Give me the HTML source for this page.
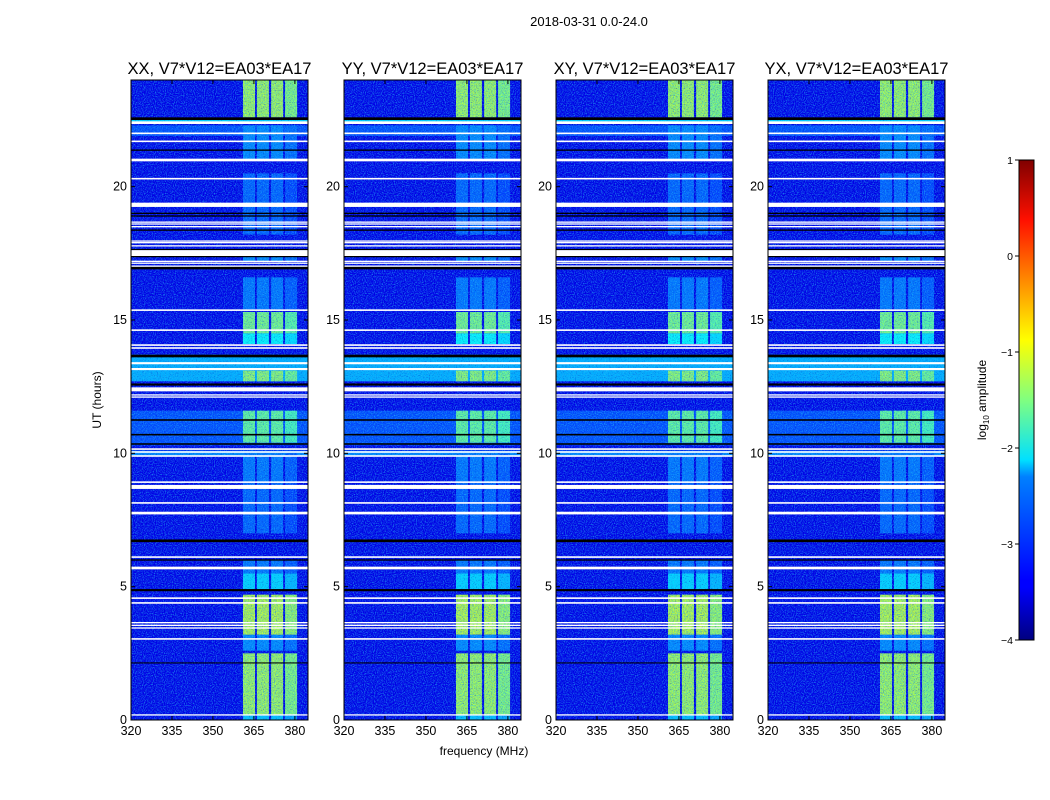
<!DOCTYPE html>
<html><head><meta charset="utf-8"><style>
html,body{margin:0;padding:0;background:#fff;}
svg{display:block;font-family:"Liberation Sans","DejaVu Sans",sans-serif;}
</style></head><body>
<svg id="fig" width="1050" height="800" viewBox="0 0 1050 800">
<defs>
<filter id="noise" x="0" y="0" width="100%" height="100%">
<feTurbulence type="fractalNoise" baseFrequency="0.9" numOctaves="1" seed="3" result="n"/>
<feColorMatrix type="matrix" values="0 0 0 0 0.02  1.4 0 0 0 -0.45  0 0 0 0 0.9  2.6 0 0 0 -0.95"/>
</filter>
<filter id="noise2" x="0" y="0" width="100%" height="100%">
<feTurbulence type="fractalNoise" baseFrequency="0.85" numOctaves="1" seed="11"/>
<feColorMatrix type="matrix" values="0 0 0 0 0  0 0 0 0 0  0 0 0 0 0.45  -2.4 0 0 0 1.05"/>
</filter>
<linearGradient id="jet" x1="0" y1="1" x2="0" y2="0">
<stop offset="0" stop-color="#000080"/><stop offset="0.11" stop-color="#0000ff"/>
<stop offset="0.125" stop-color="#0000ff"/><stop offset="0.34" stop-color="#0080ff"/>
<stop offset="0.375" stop-color="#00e0ff"/><stop offset="0.5" stop-color="#80ff80"/>
<stop offset="0.625" stop-color="#ffff00"/><stop offset="0.66" stop-color="#ffe000"/>
<stop offset="0.875" stop-color="#ff1000"/><stop offset="1" stop-color="#800000"/>
</linearGradient>
</defs>
<text x="589" y="26" font-size="13" text-anchor="middle">2018-03-31 0.0-24.0</text>
<text x="484" y="755" font-size="12" text-anchor="middle">frequency (MHz)</text>
<text transform="translate(101,400) rotate(-90)" font-size="12" text-anchor="middle">UT (hours)</text>
<g id="panels"></g>
<g id="cbar">
<rect x="1019" y="160" width="15" height="480" fill="url(#jet)" stroke="#000" stroke-width="1"/>
</g>
<text transform="translate(986,400) rotate(-90)" font-size="12" text-anchor="middle">log<tspan font-size="8" dy="3">10</tspan><tspan dy="-3"> amplitude</tspan></text>
</svg>
<script>
const pols = ["XX","YY","XY","YX"];
const baseline = "V7*V12=EA03*EA17";
const xTicks = [320,335,350,365,380];
const yTicks = [0,5,10,15,20];
const cbTicks = [1,0,-1,-2,-3,-4];
// RFI channel bands (MHz)
const bandStart = [361.0,366.1,371.3,376.4];
const bandEnd = [365.4,370.5,375.7,380.8];
// time segments of band activity: start hour, end hour, log10 amplitude
const segStart = [0,0.2,2.6,3.2,4.9,5.5,7.0,8.9,10.4,12.7,14.1,14.5,15.4,17.2,18.2,21.0,22.6];
const segEnd   = [0.2,2.5,3.2,4.7,5.5,6.0,8.9,10.0,11.6,13.1,14.5,15.3,16.6,17.5,20.5,22.3,24];
const segLevel = [-2.4,-1.3,-2.7,-1.2,-2.3,-2.8,-2.9,-2.8,-1.6,-1.4,-2.1,-1.5,-2.8,-2.7,-2.9,-2.7,-1.3];
// full-width broadband background segments
const bgStart = [10.3,12.7,21.9,22.35,9.9];
const bgEnd   = [11.6,13.7,22.3,22.55,10.1];
const bgLevel = [-3.0,-2.5,-3.0,-2.3,-2.7];
// flagged (white) rows: center hour, width hour
const flagC = [22.4,22.0,21.7,21.0,20.3,19.32,18.67,18.6,18.5,17.96,17.9,17.78,17.51,17.2,17.13,17.02,15.37,14.62,14.06,13.95,13.38,13.16,12.4,12.19,12.11,10.16,10.05,9.9,8.92,8.74,8.14,7.76,6.11,5.7,4.57,4.39,3.45,3.55,3.65,3.04,0.19];
const flagW = [0.1,0.06,0.06,0.1,0.06,0.16,0.05,0.05,0.05,0.05,0.05,0.05,0.22,0.05,0.05,0.05,0.06,0.06,0.06,0.06,0.08,0.08,0.15,0.05,0.05,0.06,0.06,0.06,0.06,0.15,0.06,0.1,0.06,0.1,0.06,0.06,0.05,0.05,0.05,0.06,0.05];
// dead (black) rows: center hour, width hour
const deadC = [22.55,21.37,19.0,18.9,18.37,17.64,17.38,16.95,13.65,12.58,11.25,10.7,10.35,6.72,6.0,4.87,2.14];
const deadW = [0.1,0.05,0.05,0.05,0.05,0.05,0.05,0.1,0.1,0.08,0.06,0.06,0.06,0.1,0.05,0.08,0.04];

const L=[131,344,556,768], W=177, T=80, B=720;
const fMin=320, fMax=384.8, hMin=0, hMax=24;
const NS="http://www.w3.org/2000/svg";
function jet(v){const t=Math.max(0,Math.min(1,(v+4)/5));const c=x=>Math.round(255*Math.max(0,Math.min(1,1.5-Math.abs(x))));return `rgb(${c(4*t-3)},${c(4*t-2)},${c(4*t-1)})`;}
function el(tag,attrs,parent){const e=document.createElementNS(NS,tag);for(const k in attrs)e.setAttribute(k,attrs[k]);parent.appendChild(e);return e;}
const root=document.getElementById('panels');
pols.forEach((p,pi)=>{
  const x0=L[pi];
  const xs=f=>x0+(f-fMin)/(fMax-fMin)*W;
  const ys=h=>B-(h-hMin)/(hMax-hMin)*(B-T);
  const g=el('g',{},root);
  
  
  const bg=el('rect',{x:x0,y:T,width:W,height:B-T,fill:jet(-3.5)},g);
  
  
  bgStart.forEach((s,i)=>{
    const r=el('rect',{x:x0,y:ys(bgEnd[i]),width:W,height:ys(s)-ys(bgEnd[i]),fill:jet(bgLevel[i])},g);
    
    
  });
  segStart.forEach((s,i)=>{
    bandStart.forEach((b,j)=>{
      const r=el('rect',{x:xs(b),y:ys(segEnd[i]),width:xs(bandEnd[j])-xs(b),height:ys(s)-ys(segEnd[i]),fill:jet(segLevel[i]+(j===3?-0.15:0))},g);
      
      
    });
  });
  const nz=el('rect',{x:x0,y:T,width:W,height:B-T,filter:'url(#noise)',opacity:0.6},g);
  
  
  const nz2=el('rect',{x:x0,y:T,width:W,height:B-T,filter:'url(#noise2)',opacity:0.7},g);
  
  
  deadC.forEach((c,i)=>{
    const r=el('rect',{x:x0,y:ys(c+deadW[i]/2),width:W,height:Math.max(1,ys(c-deadW[i]/2)-ys(c+deadW[i]/2)),fill:'#000'},g);
    
    
  });
  flagC.forEach((c,i)=>{
    const r=el('rect',{x:x0,y:ys(c+flagW[i]/2),width:W,height:Math.max(1.3,ys(c-flagW[i]/2)-ys(c+flagW[i]/2)),fill:'#fff'},g);
    
    
  });
  const fr=el('rect',{x:x0,y:T,width:W,height:B-T,fill:'none',stroke:'#000','stroke-width':1},g);
  
  
  const tt=el('text',{x:x0+W/2,y:74,'font-size':16.5,'text-anchor':'middle'},g);
  tt.textContent=p+', '+baseline;
  
  
  xTicks.forEach(f=>{
    el('line',{x1:xs(f),x2:xs(f),y1:B,y2:B-4,stroke:'#000'},g);
    el('line',{x1:xs(f),x2:xs(f),y1:T,y2:T+4,stroke:'#000'},g);
    const t=el('text',{x:xs(f),y:B+15,'font-size':12.5,'text-anchor':'middle'},g);
    t.textContent=f;
    
    
  });
  yTicks.forEach(h=>{
    el('line',{x1:x0,x2:x0+4,y1:ys(h),y2:ys(h),stroke:'#000'},g);
    el('line',{x1:x0+W,x2:x0+W-4,y1:ys(h),y2:ys(h),stroke:'#000'},g);
    const t=el('text',{x:x0-4,y:ys(h)+4,'font-size':12.5,'text-anchor':'end'},g);
    t.textContent=h;
    
    
  });
});
const cb=document.getElementById('cbar');
cbTicks.forEach(v=>{
  const y=640-(v+4)/5*480;
  el('line',{x1:1015,x2:1019,y1:y,y2:y,stroke:'#000'},cb);
  const t=el('text',{x:1013,y:y+4,'font-size':10.5,'text-anchor':'end'},cb);
  t.textContent=v<0?'\u2212'+(-v):v;
  
  
});
</script>
</body></html>
